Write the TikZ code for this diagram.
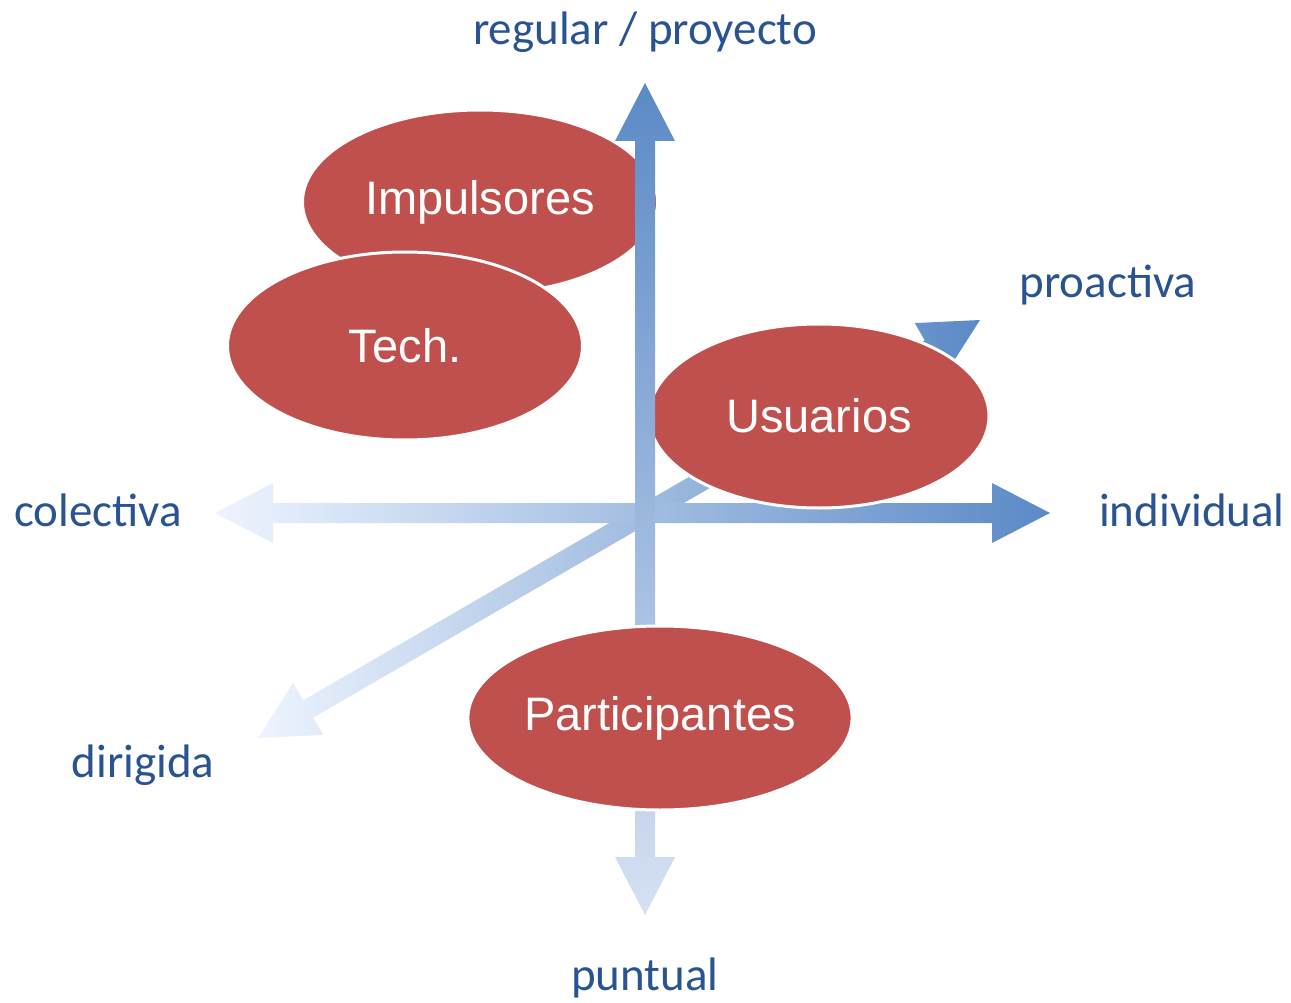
\documentclass[tikz,border=0pt]{standalone}
\usepackage{fontspec}
\setmainfont{Carlito}
\newfontfamily\arialfont{Liberation Sans}
\usetikzlibrary{calc, shapes.geometric}
\definecolor{axisdark}{RGB}{91,138,198}
\definecolor{axislight}{RGB}{238,244,254}
\definecolor{axispale}{RGB}{214,227,248}
\definecolor{axismid}{RGB}{214,225,243}
\definecolor{blobred}{RGB}{192,80,77}
\definecolor{labelblue}{RGB}{41,84,145}
\newcommand{\hl}{58pt}
\newcommand{\hw}{30pt}
\newcommand{\sw}{10pt}
\newcommand{\axisarrow}[3][]{%
  \shade[#1] (#2)
    -- ($(#2)!\hl!(#3)!\hw!90:(#3)$) -- ($(#2)!\hl!(#3)!\sw!90:(#3)$)
    -- ($(#3)!\hl!(#2)!\sw!-90:(#2)$) -- ($(#3)!\hl!(#2)!\hw!-90:(#2)$)
    -- (#3)
    -- ($(#3)!\hl!(#2)!\hw!90:(#2)$) -- ($(#3)!\hl!(#2)!\sw!90:(#2)$)
    -- ($(#2)!\hl!(#3)!\sw!-90:(#3)$) -- ($(#2)!\hl!(#3)!\hw!-90:(#3)$)
    -- cycle;}
\tikzset{
  blob/.style={ellipse, fill=blobred, draw=white, line width=3pt,
    text=white, inner sep=0pt, font=\arialfont\fontsize{47}{56}\selectfont},
  axislabel/.style={text=labelblue, font=\fontsize{47}{56}\selectfont},
}

\begin{document}
\begin{tikzpicture}[x=1pt, y=-1pt]
    \useasboundingbox (0,0) rectangle (1291,1003);
    \coordinate (regtip) at (645,83);
    \coordinate (punttip) at (645,915);
    \coordinate (coltip) at (215,513);
    \coordinate (indtip) at (1050,513);
    \coordinate (dirtip) at (258,738);
    \coordinate (protip) at (980,320);
    \node[axislabel] (reg) at (645,32) {regular / proyecto};
    \node[axislabel] (punt) at (645,978) {puntual};
    \node[axislabel] (col) at (98,510) {colectiva};
    \node[axislabel] (ind) at (1192,510) {individual};
    \node[axislabel] (dir) at (143,765) {dirigida};
    \node[axislabel] (pro) at (1108,285) {proactiva};
    \axisarrow[left color=axislight, middle color=axispale,
      right color=axisdark]{dirtip}{protip}
    \axisarrow[left color=axislight, middle color=axispale,
      right color=axisdark]{coltip}{indtip}
    \node[blob, minimum width=355pt, minimum height=184pt] (imp) at (480,202)
      {Impulsores};
    \node[blob, minimum width=355pt, minimum height=188pt] (tech) at (405,346)
      {Tech.};
    \node[blob, minimum width=340pt, minimum height=184pt] (usu) at (819,416)
      {Usuarios};
    \axisarrow[bottom color=axismid, top color=axisdark]{punttip}{regtip}
    \node[blob, minimum width=356pt, minimum height=184pt] (part) at (660,718)
      {Participantes};
\end{tikzpicture}
\end{document}
